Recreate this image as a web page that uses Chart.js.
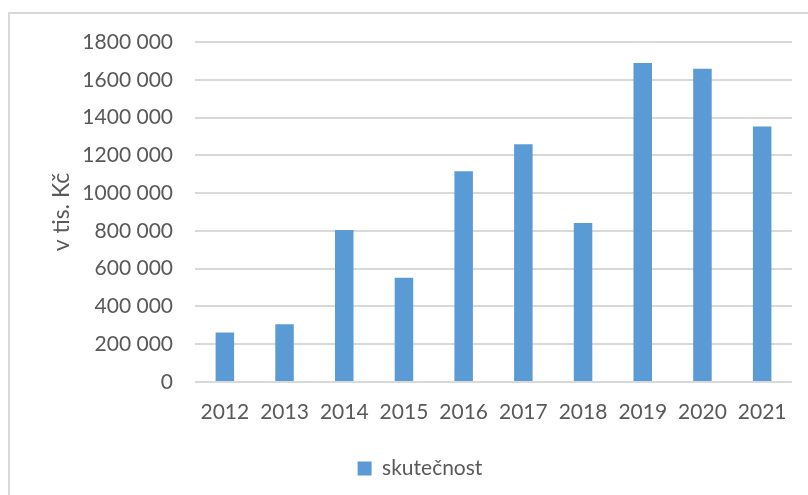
<!DOCTYPE html>
<html>
<head>
<meta charset="utf-8">
<script src="https://cdn.jsdelivr.net/npm/chart.js@4/dist/chart.umd.min.js"></script>
<style>
html,body{margin:0;padding:0;background:#fff;overflow:hidden;}
#wrap{position:relative;width:808px;height:495px;}
#frame{position:absolute;left:8px;top:12px;width:900px;height:600px;border:2px solid #D9D9D9;box-sizing:border-box;pointer-events:none;}
canvas{position:absolute;left:0;top:0;}
</style>
</head>
<body>
<div id="wrap">
<canvas id="c" width="808" height="495"></canvas>
<div id="frame"></div>
</div>
<script>
const categories = ['2012','2013','2014','2015','2016','2017','2018','2019','2020','2021'];
const skutecnost = [262000, 306000, 805000, 552000, 1116000, 1259000, 842000, 1689000, 1659000, 1353000];
const yTickValues = [0, 200000, 400000, 600000, 800000, 1000000, 1200000, 1400000, 1600000, 1800000];
const yTickLabels = ['0','200 000','400 000','600 000','800 000','1000 000','1200 000','1400 000','1600 000','1800 000'];
const seriesName = 'skutečnost';
const yTitle = 'v tis. Kč';

const FONT = 'Lato, "Open Sans", sans-serif';
const TXT = '#595959';

new Chart(document.getElementById('c'), {
  type: 'bar',
  data: {
    labels: categories,
    datasets: [{
      label: seriesName,
      data: skutecnost,
      backgroundColor: '#5B9BD5',
      borderWidth: 0,
      barPercentage: 0.31,
      categoryPercentage: 1.0
    }]
  },
  options: {
    responsive: false,
    animation: false,
    devicePixelRatio: 1,
    layout: { padding: { left: 48, right: 16, top: 42, bottom: 6 } },
    plugins: {
      legend: {
        position: 'bottom',
        labels: {
          color: TXT,
          font: { family: FONT, size: 21 },
          boxWidth: 14, boxHeight: 14,
          padding: 10
        }
      },
      tooltip: { enabled: false }
    },
    scales: {
      x: {
        grid: { display: false, drawTicks: false },
        border: { display: false },
        ticks: { color: TXT, font: { family: FONT, size: 21 }, padding: 18, maxRotation: 0 },
        afterFit: s => { s.height = 66; }
      },
      y: {
        min: 0, max: 1800000,
        afterBuildTicks: s => { s.ticks = yTickValues.map(v => ({ value: v })); },
        grid: { color: '#D9D9D9', lineWidth: 2, drawTicks: false },
        border: { display: false },
        ticks: {
          color: TXT, font: { family: FONT, size: 21 }, padding: 22,
          callback: v => yTickLabels[yTickValues.indexOf(v)]
        },
        title: { display: true, text: yTitle, color: TXT, font: { family: FONT, size: 23 }, padding: { top: 0, bottom: 0 } },
        afterFit: s => { s.width = 147; }
      }
    }
  }
});
</script>
</body>
</html>
